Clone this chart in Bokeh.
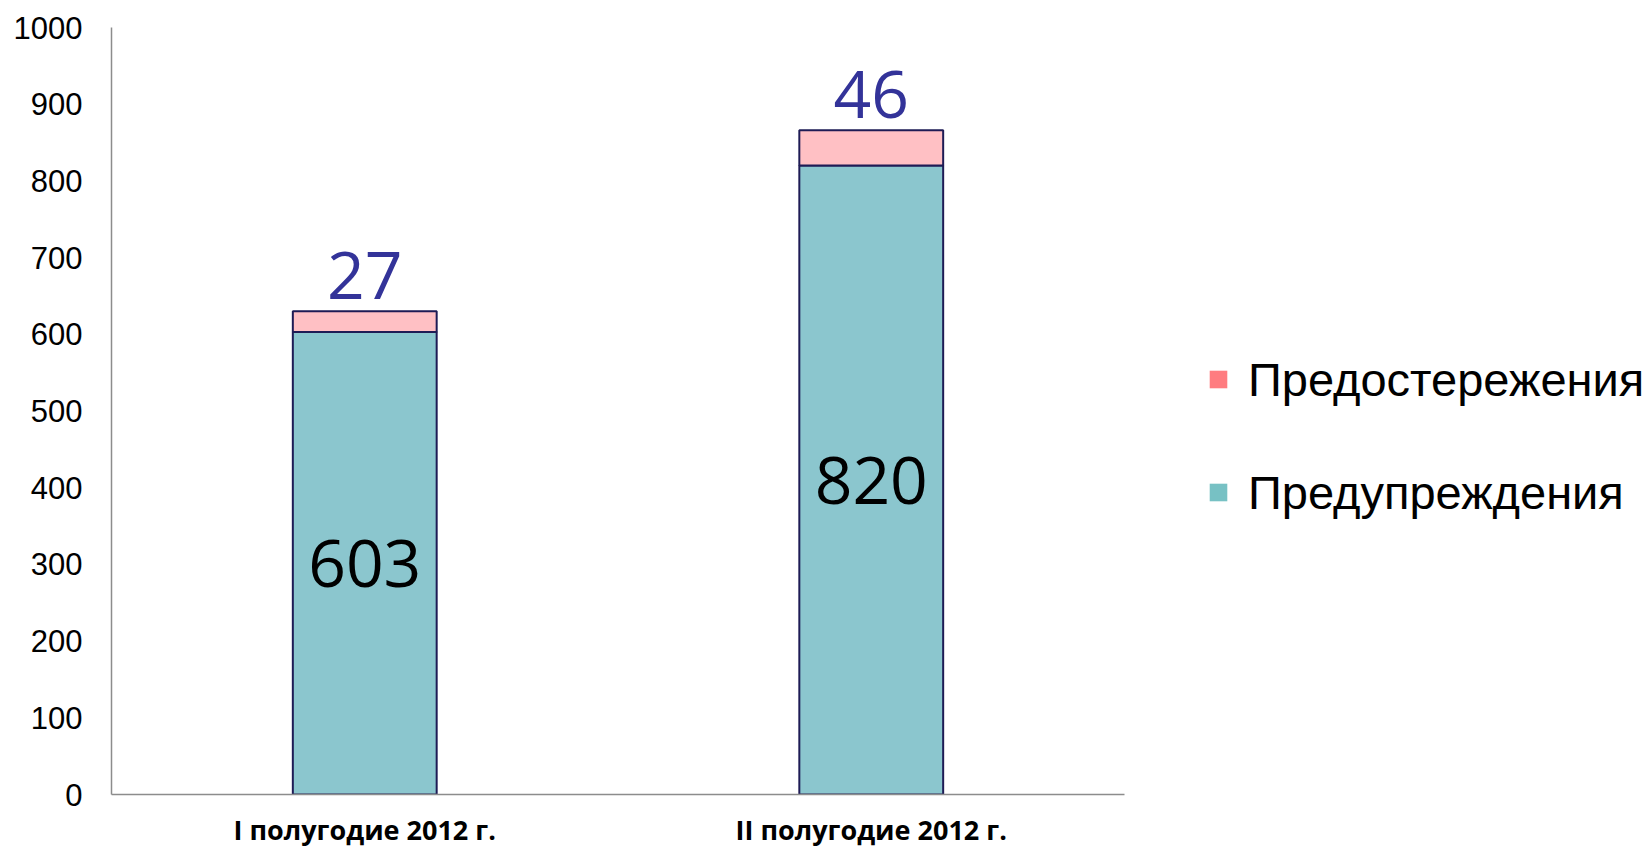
import numpy as np
from bokeh.plotting import figure
from bokeh.layouts import row
from bokeh.models import (ColumnDataSource, FactorRange, Range1d, FixedTicker,
                          Legend, LegendItem)
from bokeh.core.properties import value
from bokeh.embed import file_html
from bokeh.resources import INLINE

# ---- data ----
categories = ["I полугодие 2012 г.", "II полугодие 2012 г."]
warnings_vals = [603, 820]      # Предупреждения
cautions_vals = [27, 46]        # Предостережения
series_names = ["Предупреждения", "Предостережения"]
y_ticks = [0, 100, 200, 300, 400, 500, 600, 700, 800, 900, 1000]

# ---- styles ----
BAR_TEAL = "#8BC6CE"
BAR_PINK = "#FFC0C4"
LEG_TEAL = "#77C1C4"
LEG_PINK = "#FF7C80"
OUTLINE = "#1E1B55"
LABEL_BLUE = "#333399"

w = np.array(warnings_vals, dtype=float)
c = np.array(cautions_vals, dtype=float)

src = ColumnDataSource(dict(
    cat=categories,
    warn=w,
    caution=c,
    warn_mid=w / 2.0,
    total=w + c,
    warn_txt=[str(v) for v in warnings_vals],
    caution_txt=[str(v) for v in cautions_vals],
))

# ---- main chart ----
p = figure(x_range=FactorRange(*categories, range_padding=0),
           y_range=Range1d(0, 1000),
           width=1130, height=850,
           output_backend="svg", toolbar_location=None,
           min_border_left=111, min_border_top=27,
           min_border_bottom=56, min_border_right=6)

p.vbar_stack(["warn", "caution"], x="cat", width=0.284, source=src,
             fill_color=[BAR_TEAL, BAR_PINK], line_color=OUTLINE, line_width=2)

# value labels
p.text(x="cat", y="warn_mid", text="warn_txt", source=src,
       text_font=value("Open Sans"), text_font_size="66px",
       text_align="center", text_baseline="middle", text_color="black")
p.text(x="cat", y="total", text="caution_txt", source=src,
       text_font=value("Open Sans"), text_font_size="66px",
       text_align="center", text_baseline="middle",
       text_color=LABEL_BLUE, y_offset=-36)

p.xgrid.visible = False
p.ygrid.visible = False
p.outline_line_color = None

p.yaxis.ticker = FixedTicker(ticks=y_ticks)
p.yaxis.major_tick_line_color = None
p.yaxis.major_tick_out = 0
p.yaxis.major_tick_in = 0
p.yaxis.minor_tick_line_color = None
p.yaxis.axis_line_color = "#8C8C8C"
p.yaxis.axis_line_width = 1.5
p.yaxis.major_label_standoff = 29
p.yaxis.major_label_text_font = "Liberation Sans"
p.yaxis.major_label_text_font_size = "31px"
p.yaxis.major_label_text_color = "black"

p.xaxis.major_tick_line_color = None
p.xaxis.major_tick_out = 0
p.xaxis.major_tick_in = 0
p.xaxis.axis_line_color = "#8C8C8C"
p.xaxis.axis_line_width = 1.5
p.xaxis.major_label_standoff = 16
p.xaxis.major_label_text_font = "Open Sans"
p.xaxis.major_label_text_font_style = "bold"
p.xaxis.major_label_text_font_size = "27px"
p.xaxis.major_label_text_color = "black"

# ---- legend panel ----
q = figure(x_range=FactorRange(*categories), y_range=Range1d(0, 1),
           width=521, height=850,
           output_backend="svg", toolbar_location=None,
           min_border_left=0, min_border_right=0,
           min_border_top=0, min_border_bottom=0)
q.axis.visible = False
q.grid.visible = False
q.outline_line_color = None

zero = [0] * len(categories)
r_pink = q.vbar(x=categories, top=zero, bottom=zero, width=0.1,
                fill_color=LEG_PINK, line_color=None)
r_teal = q.vbar(x=categories, top=zero, bottom=zero, width=0.1,
                fill_color=LEG_TEAL, line_color=None)

legend = Legend(items=[LegendItem(label=series_names[1], renderers=[r_pink]),
                       LegendItem(label=series_names[0], renderers=[r_teal])],
                location=(77, 274), orientation="vertical",
                glyph_width=22, glyph_height=22, label_standoff=19,
                label_height=56, spacing=57, padding=0, margin=0,
                label_text_font="Liberation Sans", label_text_font_size="47px",
                label_text_color="black",
                border_line_color=None, background_fill_alpha=0)
q.add_layout(legend)

layout = row(p, q, spacing=0)
open("out.html", "w").write(file_html(layout, INLINE))
